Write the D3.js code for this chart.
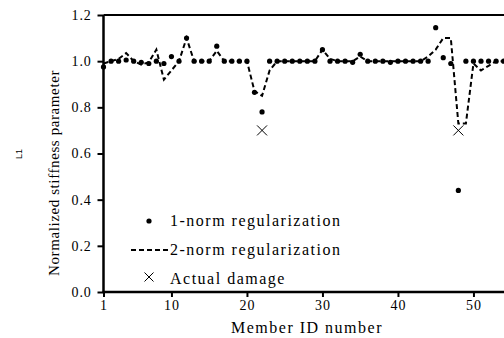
<!DOCTYPE html>
<html>
<head>
<meta charset="utf-8">
<script src="https://cdn.jsdelivr.net/npm/d3@7/dist/d3.min.js"></script>
<style>
  body { margin: 0; background: #fff; }
  svg { display: block; }
  .serif { font-family: "Liberation Serif", "Times New Roman", serif; fill: #000; }
</style>
</head>
<body>
<div id="chart"></div>
<script>
// member ids 1..54
const members = d3.range(1, 55);

// 1-norm regularization (dots)
const norm1 = [0.975, 1.0, 1.0, 1.005, 1.0, 0.995, 0.99, 1.0, 0.99, 1.02,
  1.0, 1.10, 1.0, 1.0, 1.0, 1.065, 1.0, 1.0, 1.0, 1.0,
  0.865, 0.78, 1.0, 1.0, 1.0, 1.0, 1.0, 1.0, 1.0, 1.05,
  1.0, 1.0, 1.0, 0.995, 1.03, 1.0, 1.0, 1.0, 0.995, 1.0,
  1.0, 1.0, 1.0, 1.0, 1.145, 1.015, 0.99, 0.44, 1.0, 1.0,
  1.0, 1.0, 1.0, 1.0];

// 2-norm regularization (dashed)
const norm2 = [0.99, 1.0, 1.01, 1.035, 1.0, 0.985, 0.995, 1.05, 0.92, 0.96,
  1.0, 1.10, 1.0, 1.0, 1.0, 1.045, 1.0, 1.0, 1.0, 1.0,
  0.87, 0.85, 0.96, 1.0, 1.0, 1.0, 1.0, 1.0, 1.0, 1.05,
  1.01, 1.0, 1.0, 1.0, 1.02, 1.0, 1.0, 1.0, 1.0, 1.0,
  1.0, 1.0, 1.0, 1.02, 1.05, 1.10, 1.10, 0.73, 0.73, 0.99,
  0.96, 0.98, 1.0, 1.0];

// actual damage
const damageIds = [22, 48];
const damageVals = [0.70, 0.70];

const xTicks = [1, 10, 20, 30, 40, 50];
const yTicks = [0, 0.2, 0.4, 0.6, 0.8, 1.0, 1.2];

const width = 504, height = 338;

const svg = d3.select("#chart").append("svg")
  .attr("width", width)
  .attr("height", height);

const x = d3.scaleLinear().domain([1, 55]).range([103.5, 103.5 + 54 * 7.55]);
const y = d3.scaleLinear().domain([0, 1.2]).range([292, 15]);

// top frame line
svg.append("line")
  .attr("x1", x(1)).attr("x2", width + 10)
  .attr("y1", y(1.2)).attr("y2", y(1.2))
  .attr("stroke", "#000").attr("stroke-width", 2);

// x axis
const xAxis = svg.append("g")
  .attr("transform", "translate(0," + y(0) + ")")
  .call(d3.axisBottom(x).tickValues(xTicks).tickSize(5).tickPadding(3).tickFormat(d3.format("d")));
xAxis.select(".domain").attr("d", "M" + (x(1) - 1) + ",0H" + (width + 10)).attr("stroke-width", 2.5);
xAxis.selectAll(".tick line").attr("stroke-width", 2);
xAxis.selectAll("text").attr("class", "serif").style("font-size", "14px").style("letter-spacing", "1px");

// y axis
const yAxis = svg.append("g")
  .attr("transform", "translate(" + x(1) + ",0)")
  .call(d3.axisLeft(y).tickValues(yTicks).tickSize(6).tickPadding(6).tickFormat(d3.format(".1f")));
yAxis.select(".domain").attr("d", "M0," + y(1.2) + "V" + y(0)).attr("stroke-width", 2.5);
yAxis.selectAll(".tick line").attr("stroke-width", 2);
yAxis.selectAll("text").attr("class", "serif").style("font-size", "14px").style("letter-spacing", "0.8px");

// 2-norm dashed line
const line = d3.line()
  .x((d, i) => x(members[i]))
  .y(d => y(d));
svg.append("path")
  .datum(norm2)
  .attr("fill", "none")
  .attr("stroke", "#000")
  .attr("stroke-width", 2)
  .attr("stroke-dasharray", "5,3")
  .attr("d", line);

// 1-norm dots
svg.selectAll(".dot")
  .data(norm1)
  .enter().append("circle")
  .attr("class", "dot")
  .attr("cx", (d, i) => x(members[i]))
  .attr("cy", d => y(d))
  .attr("r", 2.6)
  .attr("fill", "#000");

// actual damage crosses
const cross = d3.symbol().type(d3.symbolX).size(60);
svg.selectAll(".dmg")
  .data(damageIds)
  .enter().append("path")
  .attr("class", "dmg")
  .attr("transform", (d, i) => "translate(" + x(d) + "," + y(damageVals[i]) + ") rotate(0)")
  .attr("d", d3.symbol().type({
    draw(ctx, size) { const s = 5; ctx.moveTo(-s, -s); ctx.lineTo(s, s); ctx.moveTo(s, -s); ctx.lineTo(-s, s); }
  }))
  .attr("fill", "none")
  .attr("stroke", "#000")
  .attr("stroke-width", 1);

// axis titles
svg.append("text")
  .attr("class", "serif")
  .attr("x", 307).attr("y", 333)
  .attr("text-anchor", "middle")
  .style("font-size", "16px")
  .style("letter-spacing", "1.5px")
  .text("Member ID number");

svg.append("text")
  .attr("class", "serif")
  .attr("transform", "translate(59,173) rotate(-90)")
  .attr("text-anchor", "middle")
  .style("font-size", "15px")
  .style("letter-spacing", "0.6px")
  .text("Normalized stiffness parameter");

svg.append("text")
  .attr("transform", "translate(22,154) rotate(-90)")
  .attr("text-anchor", "middle")
  .style("font-family", "Liberation Sans, Arial, sans-serif")
  .style("font-size", "9px")
  .text("L1");

// legend
const legend = svg.append("g");
legend.append("circle").attr("cx", 149).attr("cy", 221).attr("r", 2.6).attr("fill", "#000");
legend.append("line").attr("x1", 131).attr("x2", 168).attr("y1", 250).attr("y2", 250)
  .attr("stroke", "#000").attr("stroke-width", 2).attr("stroke-dasharray", "5,3");
legend.append("path")
  .attr("d", "M144.5,272.5L153.5,281.5M153.5,272.5L144.5,281.5")
  .attr("stroke", "#000").attr("stroke-width", 1).attr("fill", "none");
const legendLabels = ["1-norm regularization", "2-norm regularization", "Actual damage"];
legend.selectAll("text")
  .data(legendLabels)
  .enter().append("text")
  .attr("class", "serif")
  .attr("x", 170)
  .attr("y", (d, i) => 226 + i * 29)
  .style("font-size", "16px")
  .style("letter-spacing", "1.5px")
  .text(d => d);
</script>
</body>
</html>
